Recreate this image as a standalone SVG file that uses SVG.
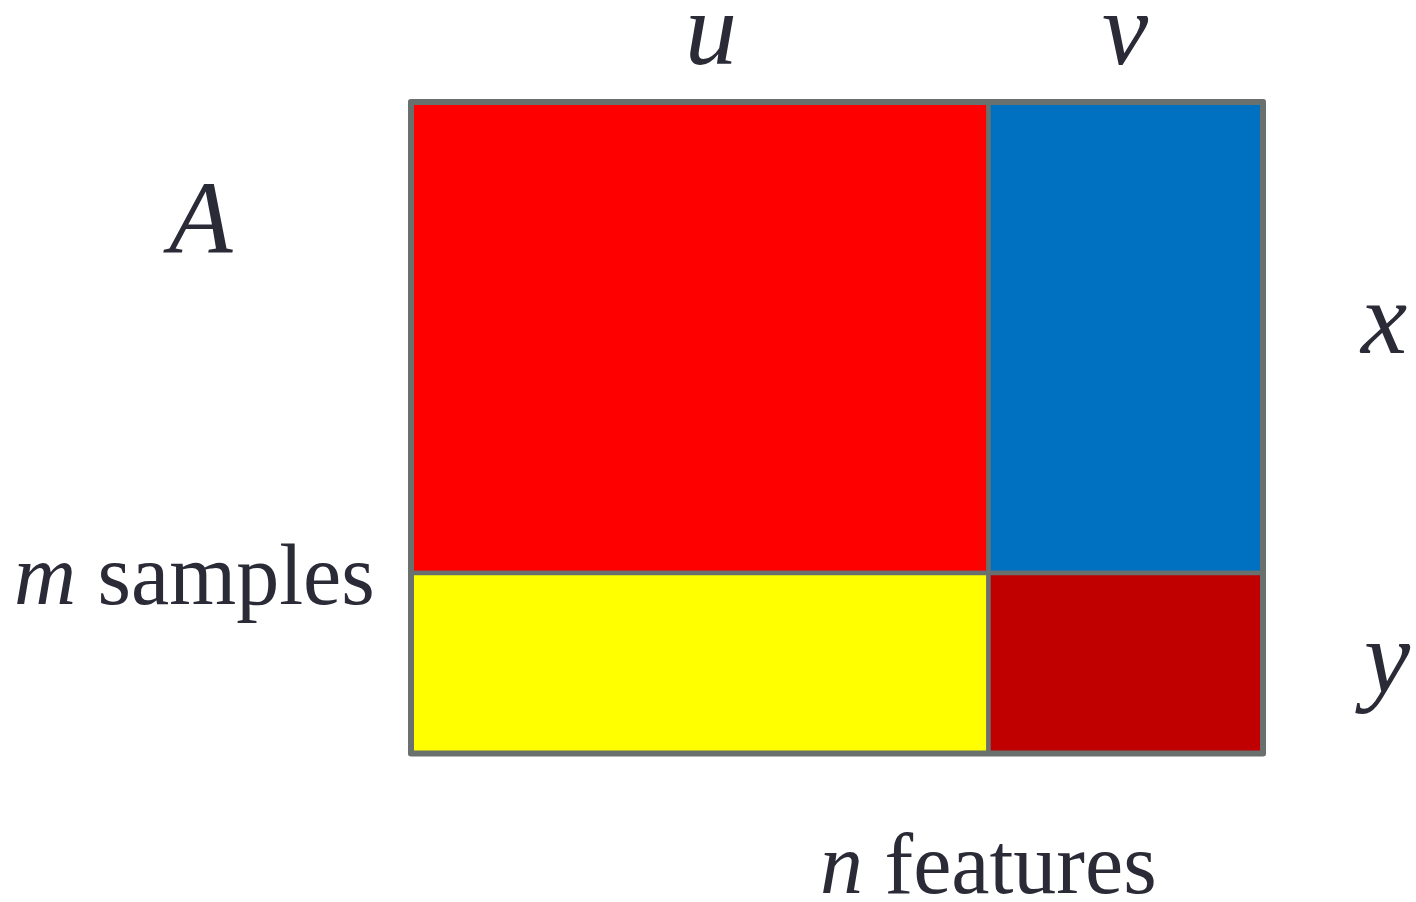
<svg xmlns="http://www.w3.org/2000/svg" width="1416" height="902" viewBox="0 0 1416 902">
  <style>
    .blk { stroke: #6a706d; stroke-width: 4.5; }
    .frame { fill: none; stroke: #6a706d; stroke-width: 6; stroke-linejoin: round; }
    text { fill: #2a2b36; }
    .var { font-style: italic; font-size: 104px; }
    .cap { font-size: 86px; }
    .it { font-style: italic; }
  </style>
  <rect width="1416" height="902" fill="#ffffff"/>
  <!-- matrix blocks -->
  <g id="block-ux">
    <rect class="blk" x="411" y="102" width="577.5" height="471" fill="#ff0000"/>
  </g>
  <g id="block-vx">
    <rect class="blk" x="988.5" y="102" width="274.5" height="471" fill="#0070c0"/>
  </g>
  <g id="block-uy">
    <rect class="blk" x="411" y="573" width="577.5" height="180.5" fill="#ffff00"/>
  </g>
  <g id="block-vy">
    <rect class="blk" x="988.5" y="573" width="274.5" height="180.5" fill="#c00000"/>
  </g>
  <g id="frame">
    <rect class="frame" x="411" y="102" width="852" height="651.5"/>
  </g>
  <!-- labels -->
  <g id="labels" font-family="'Liberation Serif', 'Times New Roman', serif">
    <text class="var" x="685" y="64">u</text>
    <text class="var" x="1102" y="64">v</text>
    <text class="var" x="169" y="253">A</text>
    <text class="var" x="1361" y="353">x</text>
    <text class="var" x="1364" y="692">y</text>
    <text class="cap" x="14" y="604"><tspan class="it">m</tspan> samples</text>
    <text class="cap" x="820" y="893"><tspan class="it">n</tspan> features</text>
  </g>
</svg>
